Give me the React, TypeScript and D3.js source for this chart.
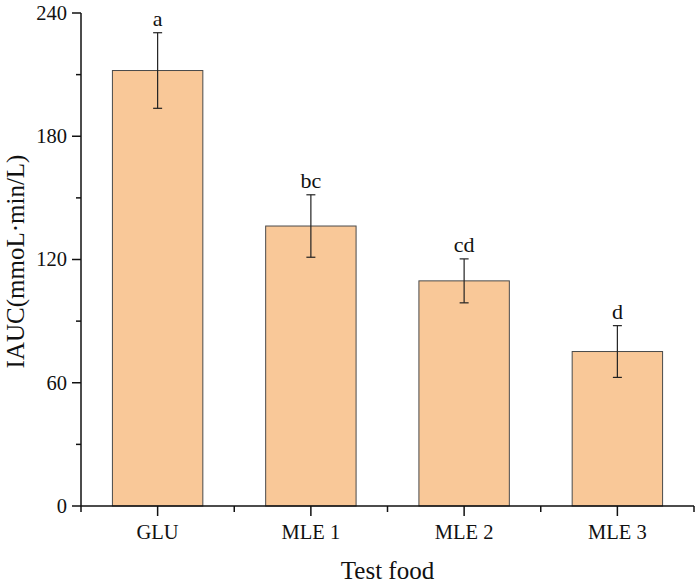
import * as d3 from "d3";

const categories = ["GLU", "MLE 1", "MLE 2", "MLE 3"];
const means = [212, 136.3, 109.6, 75.2];
const errors = [18.4, 15.2, 10.7, 12.6];
const letters = ["a", "bc", "cd", "d"];
const yTicks = [0, 60, 120, 180, 240];

export default function App() {
  const width = 700;
  const height = 584;
  const left = 81;
  const right = 694;
  const top = 13;
  const bottom = 506;
  const font = "'Liberation Serif', 'Times New Roman', serif";

  const x = d3.scaleBand<string>().domain(categories).range([left, right]).padding(0);
  const y = d3.scaleLinear().domain([0, 240]).range([bottom, top]);
  const barW = x.bandwidth() * 0.59;
  const minorY = d3.range(30, 240, 60);
  const bounds = categories.map((c) => x(c)!).concat([right]);

  return (
    <svg
      width={width}
      height={height}
      style={{ position: "absolute", left: 0, top: 0, background: "#fff" }}
      fontFamily={font}
    >
      {categories.map((c, i) => {
        const cx = x(c)! + x.bandwidth() / 2;
        const hi = y(means[i] + errors[i]);
        const lo = y(means[i] - errors[i]);
        return (
          <g key={c}>
            <rect
              x={cx - barW / 2}
              y={y(means[i])}
              width={barW}
              height={bottom - y(means[i])}
              fill="#F9C898"
              stroke="#4a4a4a"
              strokeWidth={1}
            />
            <line x1={cx} x2={cx} y1={hi} y2={lo} stroke="#222" strokeWidth={1.2} />
            <line x1={cx - 4.5} x2={cx + 4.5} y1={hi} y2={hi} stroke="#222" strokeWidth={1.2} />
            <line x1={cx - 4.5} x2={cx + 4.5} y1={lo} y2={lo} stroke="#222" strokeWidth={1.2} />
            <text x={cx} y={hi - 7} textAnchor="middle" fontSize={22} fill="#111">
              {letters[i]}
            </text>
            <line x1={cx} x2={cx} y1={bottom} y2={bottom + 10} stroke="#111" strokeWidth={1.5} />
            <text x={cx} y={539} textAnchor="middle" fontSize={20.5} fill="#111">
              {c}
            </text>
          </g>
        );
      })}

      {bounds.map((b, i) => (
        <line key={"b" + i} x1={b} x2={b} y1={bottom} y2={bottom + 6} stroke="#111" strokeWidth={1.5} />
      ))}

      {yTicks.map((t) => (
        <g key={t}>
          <line x1={left - 9} x2={left} y1={y(t)} y2={y(t)} stroke="#111" strokeWidth={1.5} />
          <text x={left - 14} y={y(t)} dy="0.34em" textAnchor="end" fontSize={20.5} fill="#111">
            {t}
          </text>
        </g>
      ))}
      {minorY.map((t) => (
        <line key={"m" + t} x1={left - 5} x2={left} y1={y(t)} y2={y(t)} stroke="#111" strokeWidth={1.5} />
      ))}

      <line x1={left} x2={left} y1={top} y2={bottom} stroke="#111" strokeWidth={1.5} />
      <line x1={left} x2={right} y1={bottom} y2={bottom} stroke="#111" strokeWidth={1.5} />

      <text x={(left + right) / 2} y={579} textAnchor="middle" fontSize={25} fill="#111">
        Test food
      </text>
      <text
        transform={`translate(24,${(top + bottom) / 2 + 2}) rotate(-90)`}
        textAnchor="middle"
        fontSize={25}
        fill="#111"
      >
        IAUC(mmoL·min/L)
      </text>
    </svg>
  );
}
